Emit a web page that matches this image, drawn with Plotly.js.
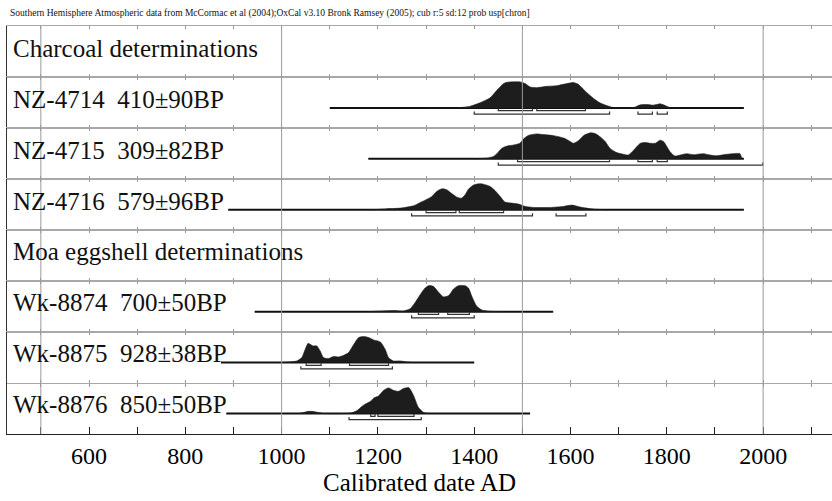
<!DOCTYPE html>
<html><head><meta charset="utf-8">
<script src="https://cdn.plot.ly/plotly-3.0.1.min.js"></script>
<style>html,body{margin:0;padding:0;background:#fff}#chart{width:832px;height:501px}</style>
</head><body><div id="chart"></div>
<script>
// ---------- data ----------
const tickYears  = [500,600,700,800,900,1000,1100,1200,1300,1400,1500,1600,1700,1800,1900,2000,2100];
const tickLabels = ['','600','','800','','1000','','1200','','1400','','1600','','1800','','2000',''];
const gridYears  = [500,1000,1500,2000];

const rowLabels = [
  'Charcoal determinations',
  'NZ-4714\u00a0 410±90BP',
  'NZ-4715\u00a0 309±82BP',
  'NZ-4716\u00a0 579±96BP',
  'Moa eggshell determinations',
  'Wk-8874\u00a0 700±50BP',
  'Wk-8875\u00a0 928±38BP',
  'Wk-8876\u00a0 850±50BP'
];

const nz4714Year = [1300,1370,1392,1412,1433,1447,1461,1468,1495,1506,1516,1530,1551,1572,1592,1606,1616,1634,1648,1661,1675,1689,1731,1745,1758,1772,1786,1793,1807,1830];
const nz4714Prob = [0,0.01,0.065,0.195,0.39,0.675,0.935,0.987,1,0.935,0.805,0.78,0.83,0.857,0.935,0.974,0.91,0.584,0.364,0.195,0.09,0.013,0.013,0.117,0.13,0.104,0.156,0.117,0.01,0];
const nz4714Span = [1100,1960];
const nz4714R68 = [[1450,1521],[1530,1631]];
const nz4714R95 = [[1400,1681],[1740,1770],[1780,1801]];

const nz4715Year = [1400,1426,1440,1447,1457,1468,1482,1495,1502,1513,1530,1544,1565,1586,1596,1606,1617,1627,1641,1651,1662,1672,1682,1696,1710,1720,1731,1745,1755,1765,1776,1786,1793,1807,1817,1828,1841,1855,1876,1890,1904,1924,1938,1952,1955,1958];
const nz4715Prob = [0,0.027,0.093,0.2,0.4,0.493,0.533,0.6,0.76,0.907,0.96,0.933,0.893,0.8,0.707,0.6,0.707,0.893,1.0,0.973,0.84,0.667,0.4,0.24,0.173,0.147,0.333,0.6,0.627,0.6,0.6,0.72,0.667,0.267,0.107,0.147,0.2,0.16,0.2,0.147,0.12,0.173,0.2,0.2,0.067,0];
const nz4715Span = [1180,1960];
const nz4715R68 = [[1490,1681],[1740,1770],[1780,1801]];
const nz4715R95 = [[1450,1999]];

const nz4716Year = [1190,1219,1246,1274,1288,1302,1312,1322,1333,1343,1354,1364,1374,1381,1388,1398,1409,1419,1433,1443,1454,1464,1478,1492,1506,1523,1558,1585,1603,1620,1648,1675];
const nz4716Prob = [0,0.038,0.064,0.154,0.282,0.41,0.513,0.705,0.808,0.769,0.615,0.487,0.449,0.577,0.795,0.949,1,0.987,0.897,0.744,0.513,0.295,0.256,0.218,0.128,0.09,0.09,0.128,0.18,0.103,0.026,0];
const nz4716Span = [889,1960];
const nz4716R68 = [[1300,1362],[1369,1461]];
const nz4716R95 = [[1270,1521],[1570,1632]];

const wk8874Year = [1180,1232,1253,1267,1277,1288,1298,1305,1315,1326,1336,1347,1357,1367,1381,1388,1395,1405,1416,1433,1460];
const wk8874Prob = [0,0.04,0.025,0.114,0.342,0.658,0.911,1,0.975,0.747,0.57,0.62,0.873,1,1,0.911,0.595,0.215,0.063,0.013,0];
const wk8874Span = [944,1564];
const wk8874R68 = [[1284,1326],[1345,1390]];
const wk8874R95 = [[1270,1400]];

const wk8875Year = [1000,1018,1032,1042,1049,1055,1059,1066,1073,1080,1087,1097,1108,1118,1129,1139,1150,1160,1170,1181,1191,1205,1215,1222,1232,1246,1260,1274];
const wk8875Prob = [0,0.026,0.064,0.192,0.513,0.744,0.705,0.641,0.641,0.449,0.192,0.154,0.231,0.218,0.282,0.385,0.705,0.962,1,0.962,0.872,0.795,0.513,0.192,0.064,0.064,0.026,0];
const wk8875Span = [874,1400];
const wk8875R68 = [[1051,1082],[1141,1222]];
const wk8875R95 = [[1040,1230]];

const wk8876Year = [1035,1046,1053,1066,1080,1087,1142,1156,1167,1174,1184,1191,1201,1212,1222,1232,1243,1253,1264,1274,1284,1295,1309];
const wk8876Prob = [0,0.039,0.079,0.079,0.026,0,0.013,0.105,0.276,0.368,0.46,0.592,0.671,0.895,0.987,0.895,0.855,0.96,1,0.697,0.237,0.039,0];
const wk8876Span = [885,1516];
const wk8876R68 = [[1185,1194],[1200,1275]];
const wk8876R95 = [[1140,1290]];

const rowSamples = [
  null,
  {year:nz4714Year, prob:nz4714Prob, span:nz4714Span, r68:nz4714R68, r95:nz4714R95},
  {year:nz4715Year, prob:nz4715Prob, span:nz4715Span, r68:nz4715R68, r95:nz4715R95},
  {year:nz4716Year, prob:nz4716Prob, span:nz4716Span, r68:nz4716R68, r95:nz4716R95},
  null,
  {year:wk8874Year, prob:wk8874Prob, span:wk8874Span, r68:wk8874R68, r95:wk8874R95},
  {year:wk8875Year, prob:wk8875Prob, span:wk8875Span, r68:wk8875R68, r95:wk8875R95},
  {year:wk8876Year, prob:wk8876Prob, span:wk8876Span, r68:wk8876R68, r95:wk8876R95}
];

// ---------- layout geometry ----------
const W = 832, H = 501;
const topPx = 25.5, rowH = 51, bottomPx = 434;
const plotH = bottomPx - topPx;
const unitPx = 26;      // pixels for a normalised probability of 1
const baseOffset = 31;  // pixels from row top down to baseline
const xRange = [429.7, 2143];
const FONT = 'Liberation Serif';
const nRows = rowLabels.length;

function axName(i){ return i === 0 ? '' : String(i+1); }

const data = [];
const annotations = [];
const layout = {
  width: W, height: H, autosize: false,
  margin: {l: 7, r: 0, t: topPx, b: H - bottomPx, pad: 0},
  paper_bgcolor: '#fff', plot_bgcolor: 'rgba(0,0,0,0)',
  showlegend: false,
  font: {family: FONT, color: '#000'},
  title: {
    text: 'Southern Hemisphere Atmospheric data from McCormac et al (2004);OxCal v3.10 Bronk Ramsey (2005); cub r:5 sd:12 prob usp[chron]',
    font: {family: FONT, size: 9.5, color: '#111'},
    x: 10 / W, xref: 'container', xanchor: 'left',
    y: 1 - 13 / H, yref: 'container', yanchor: 'middle'
  },
  shapes: [],
  annotations: annotations
};

function bracket(ranges, level, tip){
  const x = [], y = [];
  ranges.forEach(r => {
    x.push(r[0], r[0], r[1], r[1], null);
    y.push(tip, level, level, tip, null);
  });
  return {x, y};
}

for (let i = 0; i < nRows; i++){
  const a = axName(i);
  const rTop = topPx + i * rowH;
  const rBot = (i < nRows - 1) ? rTop + rowH : bottomPx;
  const dom = [(bottomPx - rBot) / plotH, (bottomPx - rTop) / plotH];
  const yr = [-(rBot - rTop - baseOffset) / unitPx, baseOffset / unitPx];
  const isBottom = (i === nRows - 1);

  layout['xaxis' + a] = {
    domain: [0, 1], anchor: 'y' + a, range: xRange, type: 'linear',
    showgrid: false, zeroline: false,
    showline: true, linewidth: 1,
    linecolor: isBottom ? '#222' : '#a8a8a8',
    mirror: isBottom ? false : 'allticks',
    ticks: 'inside', ticklen: isBottom ? 7 : 3, tickwidth: 1,
    tickcolor: isBottom ? '#222' : '#999',
    tickmode: 'array', tickvals: tickYears,
    ticktext: tickLabels,
    showticklabels: isBottom,
    tickfont: {family: FONT, size: 24, color: '#000'},
    fixedrange: true
  };
  if (isBottom){
    layout['xaxis' + a].title = {text: 'Calibrated date AD', font: {family: FONT, size: 25, color: '#000'}, standoff: 2};
  }
  layout['yaxis' + a] = {
    domain: dom, anchor: 'x' + a, range: yr,
    showgrid: false, zeroline: false, showticklabels: false, ticks: '',
    showline: true, linecolor: '#333', linewidth: 1, fixedrange: true
  };

  annotations.push({
    text: rowLabels[i], xref: 'paper', x: 0, xanchor: 'left', xshift: 4,
    yref: 'y' + a, y: 8.75 / unitPx, yanchor: 'middle',
    showarrow: false, font: {family: FONT, size: 25, color: '#111'}
  });

  data.push({x: [null], y: [null], xaxis: 'x' + a, yaxis: 'y' + a, mode: 'lines', hoverinfo: 'skip'});

  const s = rowSamples[i];
  if (!s) continue;
  data.push({
    x: s.span, y: [0, 0], xaxis: 'x' + a, yaxis: 'y' + a,
    mode: 'lines', line: {color: '#111', width: 2}, hoverinfo: 'skip'
  });
  data.push({
    x: s.year, y: s.prob, xaxis: 'x' + a, yaxis: 'y' + a,
    mode: 'lines', fill: 'tozeroy', fillcolor: '#1d1d1d',
    line: {color: '#1d1d1d', width: 0.6, shape: 'spline', smoothing: 0.6}, hoverinfo: 'skip'
  });
  const b68 = bracket(s.r68, -2.8 / unitPx, -0.6 / unitPx);
  const b95 = bracket(s.r95, -6.2 / unitPx, -3.6 / unitPx);
  [b68, b95].forEach(b => data.push({
    x: b.x, y: b.y, xaxis: 'x' + a, yaxis: 'y' + a,
    mode: 'lines', line: {color: '#333', width: 1.2}, connectgaps: false, hoverinfo: 'skip'
  }));
}

const lastTopFrac = (bottomPx - (topPx + (nRows - 1) * rowH)) / plotH;
layout.xaxis9 = {
  overlaying: 'x8', anchor: 'free', position: lastTopFrac, side: 'top', range: xRange,
  showgrid: false, zeroline: false, showline: false,
  ticks: 'inside', ticklen: 3, tickwidth: 1, tickcolor: '#999',
  tickmode: 'array', tickvals: tickYears, showticklabels: false, fixedrange: true
};
data.push({x: [null], y: [null], xaxis: 'x9', yaxis: 'y8', mode: 'lines', hoverinfo: 'skip'});

gridYears.forEach(g => layout.shapes.push({
  type: 'line', xref: 'x', yref: 'paper', x0: g, x1: g, y0: 0, y1: 1,
  line: {color: '#9a9a9a', width: 1}, layer: 'above'
}));

Plotly.newPlot('chart', data, layout, {staticPlot: true, displayModeBar: false});
</script>
</body></html>
